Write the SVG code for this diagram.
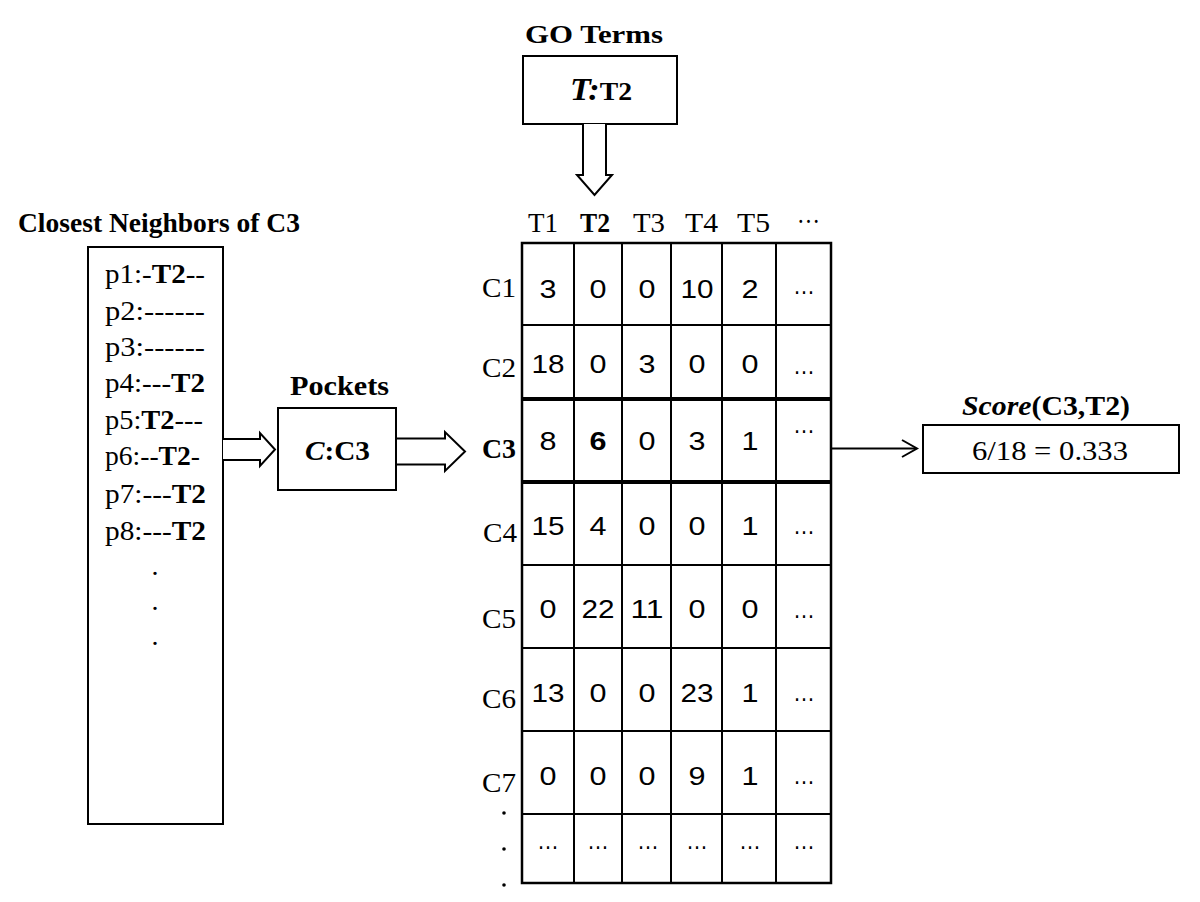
<svg xmlns="http://www.w3.org/2000/svg" width="1200" height="902" viewBox="0 0 1200 902">
<style>
.serif{font-family:"Liberation Serif","Times New Roman",serif;fill:#000}
.sans{font-family:"Liberation Sans",Arial,sans-serif;fill:#000}
.b{font-weight:bold}
.i{font-style:italic}
.box{fill:#fff;stroke:#000;stroke-width:2}
.grid{stroke:#000;stroke-width:2;fill:none}
.thick{stroke:#000;stroke-width:4;fill:none}
.blk{fill:#fff;stroke:#000;stroke-width:2;stroke-linejoin:miter}
.num{font-size:26px;text-anchor:middle}
.lbl{font-size:27px;text-anchor:end}
.item{font-size:28px}
</style>
<rect width="1200" height="902" fill="#fff"/>

<g id="go-terms">
<text class="serif b" x="525" y="43" font-size="26" textLength="138" lengthAdjust="spacingAndGlyphs">GO Terms</text>
<rect class="box" x="523" y="56" width="154" height="68"/>
<text class="serif b" x="570" y="100" textLength="62" lengthAdjust="spacingAndGlyphs"><tspan class="i" font-size="32">T:</tspan><tspan font-size="26">T2</tspan></text>
</g>

<g id="neighbors">
<text class="serif b" x="18" y="232" font-size="27" textLength="282" lengthAdjust="spacingAndGlyphs">Closest Neighbors of C3</text>
<rect class="box" x="88" y="247" width="135" height="577"/>
<g class="serif item">
<text x="105" y="283" textLength="100" lengthAdjust="spacingAndGlyphs">p1:-<tspan class="b">T2</tspan>--</text>
<text x="105" y="320" textLength="100" lengthAdjust="spacingAndGlyphs">p2:------</text>
<text x="105" y="356" textLength="100" lengthAdjust="spacingAndGlyphs">p3:------</text>
<text x="105" y="392" textLength="100" lengthAdjust="spacingAndGlyphs">p4:---<tspan class="b">T2</tspan></text>
<text x="105" y="429" textLength="98" lengthAdjust="spacingAndGlyphs">p5:<tspan class="b">T2</tspan>---</text>
<text x="105" y="465" textLength="95" lengthAdjust="spacingAndGlyphs">p6:--<tspan class="b">T2</tspan>-</text>
<text x="105" y="503" textLength="101" lengthAdjust="spacingAndGlyphs">p7:---<tspan class="b">T2</tspan></text>
<text x="105" y="540" textLength="101" lengthAdjust="spacingAndGlyphs">p8:---<tspan class="b">T2</tspan></text>
<text x="155" y="575" text-anchor="middle">.</text>
<text x="155" y="610" text-anchor="middle">.</text>
<text x="155" y="645" text-anchor="middle">.</text>
</g>
</g>

<g id="pockets">
<text class="serif b" x="290" y="395" font-size="27" textLength="99" lengthAdjust="spacingAndGlyphs">Pockets</text>
<rect class="box" x="278" y="408" width="118" height="82"/>
<text class="serif b" x="305" y="460" font-size="28" textLength="65" lengthAdjust="spacingAndGlyphs"><tspan class="i">C</tspan>:C3</text>
</g>

<g id="matrix">
<g class="serif" font-size="27">
<text x="528" y="232" textLength="30" lengthAdjust="spacingAndGlyphs">T1</text>
<text class="b" x="580" y="232" textLength="30" lengthAdjust="spacingAndGlyphs">T2</text>
<text x="633" y="232" textLength="32" lengthAdjust="spacingAndGlyphs">T3</text>
<text x="685" y="232" textLength="33" lengthAdjust="spacingAndGlyphs">T4</text>
<text x="737" y="232" textLength="33" lengthAdjust="spacingAndGlyphs">T5</text>
<text x="797" y="223" textLength="23" lengthAdjust="spacingAndGlyphs">…</text>
</g>
<g class="serif lbl">
<text x="516" y="297" textLength="34" lengthAdjust="spacingAndGlyphs">C1</text>
<text x="516" y="377" textLength="34" lengthAdjust="spacingAndGlyphs">C2</text>
<text class="b" x="516" y="458" textLength="34" lengthAdjust="spacingAndGlyphs">C3</text>
<text x="517" y="542" textLength="34" lengthAdjust="spacingAndGlyphs">C4</text>
<text x="516" y="628" textLength="34" lengthAdjust="spacingAndGlyphs">C5</text>
<text x="516" y="708" textLength="34" lengthAdjust="spacingAndGlyphs">C6</text>
<text x="516" y="792" textLength="34" lengthAdjust="spacingAndGlyphs">C7</text>
</g>
<g fill="#000">
<circle cx="504" cy="813" r="1.8"/>
<circle cx="504" cy="849" r="1.8"/>
<circle cx="504" cy="885" r="1.8"/>
</g>
<g class="grid">
<rect x="522" y="243" width="309" height="640" stroke-width="2.5"/>
<line x1="574" y1="243" x2="574" y2="883"/>
<line x1="622" y1="243" x2="622" y2="883"/>
<line x1="671" y1="243" x2="671" y2="883"/>
<line x1="722" y1="243" x2="722" y2="883"/>
<line x1="776" y1="243" x2="776" y2="883"/>
<line x1="522" y1="325" x2="831" y2="325"/>
<line x1="522" y1="565" x2="831" y2="565"/>
<line x1="522" y1="648" x2="831" y2="648"/>
<line x1="522" y1="731" x2="831" y2="731"/>
<line x1="522" y1="814" x2="831" y2="814"/>
</g>
<line class="thick" x1="522" y1="399" x2="831" y2="399"/>
<line class="thick" x1="522" y1="482" x2="831" y2="482"/>
<g class="sans num">
<text x="548" y="298" textLength="17" lengthAdjust="spacingAndGlyphs">3</text>
<text x="598" y="298" textLength="17" lengthAdjust="spacingAndGlyphs">0</text>
<text x="647" y="298" textLength="17" lengthAdjust="spacingAndGlyphs">0</text>
<text x="697" y="298" textLength="33" lengthAdjust="spacingAndGlyphs">10</text>
<text x="750" y="298" textLength="17" lengthAdjust="spacingAndGlyphs">2</text>
<text x="804" y="294" textLength="22" lengthAdjust="spacingAndGlyphs">…</text>

<text x="548" y="373" textLength="33" lengthAdjust="spacingAndGlyphs">18</text>
<text x="598" y="373" textLength="17" lengthAdjust="spacingAndGlyphs">0</text>
<text x="647" y="373" textLength="17" lengthAdjust="spacingAndGlyphs">3</text>
<text x="697" y="373" textLength="17" lengthAdjust="spacingAndGlyphs">0</text>
<text x="750" y="373" textLength="17" lengthAdjust="spacingAndGlyphs">0</text>
<text x="804" y="374" textLength="22" lengthAdjust="spacingAndGlyphs">…</text>

<text x="548" y="450" textLength="17" lengthAdjust="spacingAndGlyphs">8</text>
<text class="b" x="598" y="450" textLength="17" lengthAdjust="spacingAndGlyphs">6</text>
<text x="647" y="450" textLength="17" lengthAdjust="spacingAndGlyphs">0</text>
<text x="697" y="450" textLength="17" lengthAdjust="spacingAndGlyphs">3</text>
<text x="750" y="450" textLength="17" lengthAdjust="spacingAndGlyphs">1</text>
<text x="804" y="433" textLength="22" lengthAdjust="spacingAndGlyphs">…</text>

<text x="548" y="535" textLength="33" lengthAdjust="spacingAndGlyphs">15</text>
<text x="598" y="535" textLength="17" lengthAdjust="spacingAndGlyphs">4</text>
<text x="647" y="535" textLength="17" lengthAdjust="spacingAndGlyphs">0</text>
<text x="697" y="535" textLength="17" lengthAdjust="spacingAndGlyphs">0</text>
<text x="750" y="535" textLength="17" lengthAdjust="spacingAndGlyphs">1</text>
<text x="804" y="534" textLength="22" lengthAdjust="spacingAndGlyphs">…</text>

<text x="548" y="618" textLength="17" lengthAdjust="spacingAndGlyphs">0</text>
<text x="598" y="618" textLength="33" lengthAdjust="spacingAndGlyphs">22</text>
<text x="647" y="618" textLength="33" lengthAdjust="spacingAndGlyphs">11</text>
<text x="697" y="618" textLength="17" lengthAdjust="spacingAndGlyphs">0</text>
<text x="750" y="618" textLength="17" lengthAdjust="spacingAndGlyphs">0</text>
<text x="804" y="618" textLength="22" lengthAdjust="spacingAndGlyphs">…</text>

<text x="548" y="702" textLength="33" lengthAdjust="spacingAndGlyphs">13</text>
<text x="598" y="702" textLength="17" lengthAdjust="spacingAndGlyphs">0</text>
<text x="647" y="702" textLength="17" lengthAdjust="spacingAndGlyphs">0</text>
<text x="697" y="702" textLength="33" lengthAdjust="spacingAndGlyphs">23</text>
<text x="750" y="702" textLength="17" lengthAdjust="spacingAndGlyphs">1</text>
<text x="804" y="701" textLength="22" lengthAdjust="spacingAndGlyphs">…</text>

<text x="548" y="785" textLength="17" lengthAdjust="spacingAndGlyphs">0</text>
<text x="598" y="785" textLength="17" lengthAdjust="spacingAndGlyphs">0</text>
<text x="647" y="785" textLength="17" lengthAdjust="spacingAndGlyphs">0</text>
<text x="697" y="785" textLength="17" lengthAdjust="spacingAndGlyphs">9</text>
<text x="750" y="785" textLength="17" lengthAdjust="spacingAndGlyphs">1</text>
<text x="804" y="784" textLength="22" lengthAdjust="spacingAndGlyphs">…</text>

<text x="548" y="849" textLength="22" lengthAdjust="spacingAndGlyphs">…</text>
<text x="598" y="849" textLength="22" lengthAdjust="spacingAndGlyphs">…</text>
<text x="648" y="849" textLength="22" lengthAdjust="spacingAndGlyphs">…</text>
<text x="697" y="849" textLength="22" lengthAdjust="spacingAndGlyphs">…</text>
<text x="750" y="849" textLength="22" lengthAdjust="spacingAndGlyphs">…</text>
<text x="804" y="849" textLength="22" lengthAdjust="spacingAndGlyphs">…</text>
</g>
</g>

<g id="score">
<text class="serif b" x="962" y="415" font-size="27" textLength="168" lengthAdjust="spacingAndGlyphs"><tspan class="i">Score</tspan>(C3,T2)</text>
<rect class="box" x="923" y="425" width="256" height="48"/>
<text class="serif" x="972" y="460" font-size="28" textLength="156" lengthAdjust="spacingAndGlyphs">6/18 = 0.333</text>
</g>

<g id="connectors">
<path class="blk" d="M583,124 V175 H577 L594.5,195 L612,175 H606 V124"/>
<path class="blk" d="M223,439 H260 V433 L275,449.5 L260,466 V460 H223"/>
<path class="blk" d="M397,438.5 H445 V432 L465,451.5 L445,471 V464.5 H397"/>
<line x1="831" y1="448.5" x2="916" y2="448.5" stroke="#000" stroke-width="2"/>
<polyline points="902,440 917,448.5 902,457" fill="none" stroke="#000" stroke-width="2"/>
</g>
</svg>
